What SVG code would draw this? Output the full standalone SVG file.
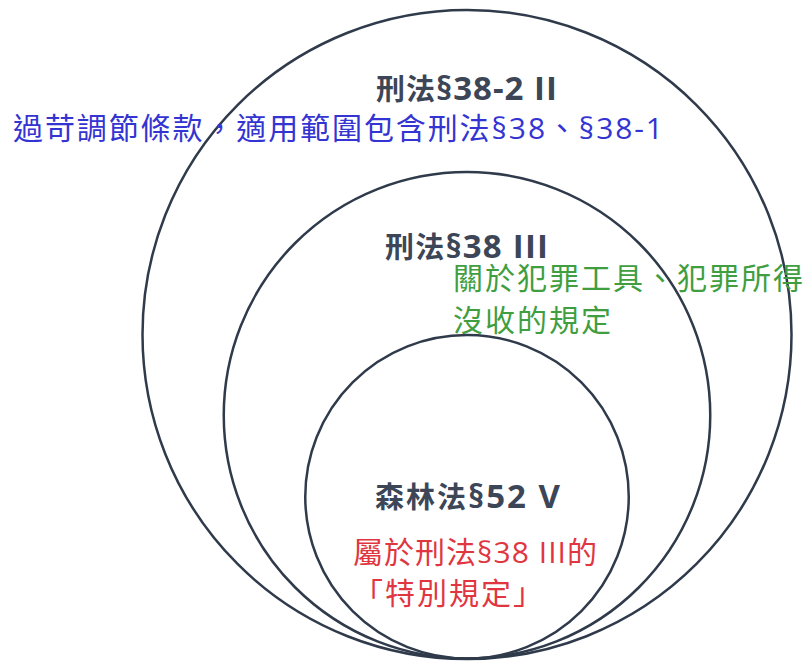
<svg xmlns="http://www.w3.org/2000/svg" width="806" height="662" viewBox="0 0 806 662">
<style>
  .ring { fill: none; stroke: #2f3a4b; stroke-width: 2.5; }
  .title { font-family: "Open Sans", "Noto Sans CJK TC", sans-serif; font-weight: bold; font-size: 29px; fill: #3c4657; text-anchor: middle; }
  .lat { font-size: 33px; }
  .note { font-family: "Open Sans", "Noto Sans CJK TC", sans-serif; font-size: 30px; letter-spacing: 2px; }
  .blue { fill: #3434d2; }
  .green { fill: #3f9e3f; }
  .red { fill: #e0363f; }
</style>
<rect width="806" height="662" fill="#ffffff"/>
<g id="outer">
  <circle class="ring" cx="467" cy="334.5" r="324.5"/>
  <text class="title" x="466.5" y="100" textLength="181">刑法<tspan class="lat">§38-2 II</tspan></text>
  <text class="note blue" x="13" y="139" textLength="652">過苛調節條款，適用範圍包含刑法§38、§38-1</text>
</g>
<g id="middle">
  <circle class="ring" cx="467" cy="415.25" r="243.25"/>
  <text class="title" x="466.5" y="258" textLength="163">刑法<tspan class="lat">§38 III</tspan></text>
  <text class="note green" x="453" y="289" textLength="352">關於犯罪工具、犯罪所得</text>
  <text class="note green" x="453" y="331">沒收的規定</text>
</g>
<g id="inner">
  <circle class="ring" cx="467" cy="496.75" r="161.75"/>
  <text class="title" x="467.5" y="508" textLength="185">森林法<tspan class="lat">§52 V</tspan></text>
  <text class="note red" x="353" y="563" textLength="246">屬於刑法§38 III的</text>
  <text class="note red" x="353" y="604">「特別規定」</text>
</g>
<g id="connectors"></g>
</svg>
